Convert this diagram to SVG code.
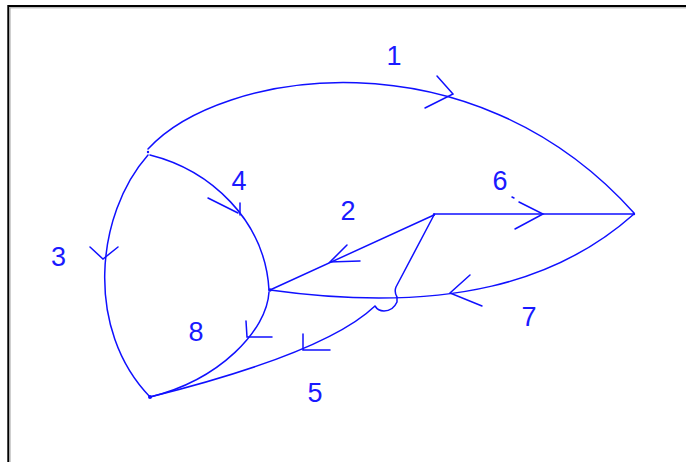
<svg xmlns="http://www.w3.org/2000/svg" width="686" height="462" viewBox="0 0 686 462">
<style>
.e{fill:none;stroke:#1010ff;stroke-width:1.5;stroke-linecap:round;stroke-linejoin:round}
.a{fill:none;stroke:#1010ff;stroke-width:1.5;stroke-linecap:round}
.n{fill:#1010ff}
.t{font-family:"Liberation Sans",Arial,sans-serif;font-size:27px;fill:#1a1aff;text-anchor:middle}
</style>
<rect x="0" y="0" width="686" height="462" fill="#ffffff"/>
<path d="M8.3,462 V6 H686" fill="none" stroke="#000000" stroke-width="2"/>
<path d="M10,462 V7.8 H686" fill="none" stroke="#a0a0a0" stroke-width="1"/>
<g id="connectors">
  <g id="edge1">
    <path class="e" d="M148,149 C220,70 470,30 634,213"/>
    <path class="a" d="M437,76 L453,94 L425,108"/>
    <text class="t" x="394" y="65">1</text>
  </g>
  <g id="edge2">
    <path class="e" d="M434,215 L270,290"/>
    <path class="a" d="M347,245 L330,262 L360,261"/>
    <text class="t" x="348" y="220">2</text>
  </g>
  <g id="edge3">
    <path class="e" d="M148,155 C95,215 85,330 150,397"/>
    <path class="a" d="M90,247 L103,259 L118,247"/>
    <text class="t" x="58.5" y="266">3</text>
  </g>
  <g id="edge4">
    <path class="e" d="M150,155 C210,170 265,220 269,290"/>
    <path class="a" d="M208,198 L238,213 M240,203 L240,215"/>
    <text class="t" x="239" y="190">4</text>
  </g>
  <g id="edge5">
    <path class="e" d="M434,215 L396,287 Q394,292 397,297 L397,302 Q393,311 384,311 Q378,311 375,306 C350,330 290,362 150,397"/>
    <path class="a" d="M303,334 L303,350 L330,350"/>
    <text class="t" x="315" y="402">5</text>
  </g>
  <g id="edge6">
    <path class="e" d="M434,214 L634,214"/>
    <path class="a" d="M519,202 L543,214 L515,229 M512,197 L514,198"/>
    <text class="t" x="500" y="190">6</text>
  </g>
  <g id="edge7">
    <path class="e" d="M634,214 C560,280 450,315 270,290"/>
    <path class="a" d="M470,275 L450,293 L482,306"/>
    <text class="t" x="529" y="326">7</text>
  </g>
  <g id="edge8">
    <path class="e" d="M269,292 C267,330 220,380 150,397"/>
    <path class="a" d="M246,321 L247,337 L272,337"/>
    <text class="t" x="196" y="341">8</text>
  </g>
</g>
<g id="nodeA"><circle class="n" cx="148" cy="152" r="1.2"/></g>
<g id="nodeB"><circle class="n" cx="634" cy="214" r="1.2"/></g>
<g id="nodeC"><circle class="n" cx="270" cy="290" r="1.8"/></g>
<g id="nodeD"><circle class="n" cx="434" cy="214.5" r="1.2"/></g>
<g id="nodeE"><circle class="n" cx="150" cy="397" r="2"/></g>
</svg>
